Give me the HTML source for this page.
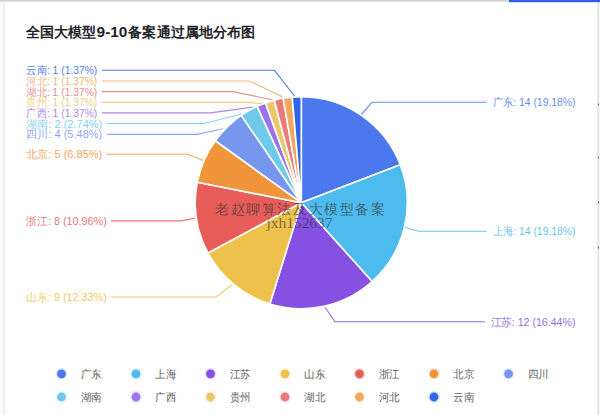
<!DOCTYPE html>
<html><head><meta charset="utf-8"><title>chart</title>
<style>
html,body{margin:0;padding:0;background:#fff;}
body{width:600px;height:415px;overflow:hidden;position:relative;font-family:"Liberation Sans",sans-serif;}
svg{position:absolute;left:0;top:0;display:block;}
text{font-family:"Liberation Sans",sans-serif;}
.lbl text{font-size:11px;}
.leg text{font-size:11px;}
.wm text{font-family:"Liberation Serif",serif;}
</style></head><body>
<svg width="600" height="415" viewBox="0 0 600 415">
<rect x="0" y="0" width="600" height="415" fill="#ffffff"/>
<rect x="0" y="0" width="4" height="415" fill="#fbfbfb"/>
<rect x="3.4" y="2" width="1.2" height="413" fill="#e6e7e9"/>
<rect x="597.4" y="3" width="1.4" height="412" fill="#dcdddf"/>
<rect x="598.8" y="3" width="1.2" height="412" fill="#f6f6f7"/>
<g fill="#6a6b6e"><rect x="598" y="103.6" width="1" height="2"/><rect x="598" y="156.5" width="1" height="2"/><rect x="598" y="201.3" width="1" height="2"/><rect x="598" y="246.6" width="1" height="2"/></g>
<rect x="0" y="0" width="509" height="1.6" fill="#cfd0d2"/>
<rect x="509" y="0" width="91" height="2.2" fill="#2d5fe8"/>
<g font-size="14" font-weight="bold" fill="#1f2329">
<text x="26" y="37" textLength="70" lengthAdjust="spacingAndGlyphs">全国大模型</text>
<text x="96.6" y="37" textLength="30.8" lengthAdjust="spacingAndGlyphs">9-10</text>
<text x="128.4" y="37" textLength="126.6" lengthAdjust="spacingAndGlyphs">备案通过属地分布图</text>
</g>
<g stroke="#ffffff" stroke-width="1.6" stroke-linejoin="round">
<path d="M301.3 202.7L301.30 96.70A106 106 0 0 1 400.29 164.78Z" fill="#4c78ee"/>
<path d="M301.3 202.7L400.29 164.78A106 106 0 0 1 372.11 281.58Z" fill="#4dbbee"/>
<path d="M301.3 202.7L372.11 281.58A106 106 0 0 1 269.85 303.93Z" fill="#8650e2"/>
<path d="M301.3 202.7L269.85 303.93A106 106 0 0 1 208.02 253.04Z" fill="#edc14b"/>
<path d="M301.3 202.7L208.02 253.04A106 106 0 0 1 197.28 182.30Z" fill="#e85d5a"/>
<path d="M301.3 202.7L197.28 182.30A106 106 0 0 1 215.28 140.76Z" fill="#f0953a"/>
<path d="M301.3 202.7L215.28 140.76A106 106 0 0 1 241.23 115.36Z" fill="#7796ee"/>
<path d="M301.3 202.7L241.23 115.36A106 106 0 0 1 257.08 106.37Z" fill="#6fc9ec"/>
<path d="M301.3 202.7L257.08 106.37A106 106 0 0 1 265.52 102.92Z" fill="#9b72ea"/>
<path d="M301.3 202.7L265.52 102.92A106 106 0 0 1 274.23 100.21Z" fill="#e9c86a"/>
<path d="M301.3 202.7L274.23 100.21A106 106 0 0 1 283.14 98.27Z" fill="#e87a7a"/>
<path d="M301.3 202.7L283.14 98.27A106 106 0 0 1 292.19 97.09Z" fill="#f0a95c"/>
<path d="M301.3 202.7L292.19 97.09A106 106 0 0 1 301.30 96.70Z" fill="#3164e6"/>
</g>
<g fill="none" stroke-width="1.1" stroke-opacity="0.85" class="ld">
<polyline points="361.3,114.7 372,102.3 486.5,102.3" stroke="#4c78ee"/>
<polyline points="405.0,227.3 418.3,231.2 486.5,231.2" stroke="#4dbbee"/>
<polyline points="325.0,307.3 335,321.8 485,321.8" stroke="#8650e2"/>
<polyline points="232.5,284.5 216,297 111,297" stroke="#edc14b"/>
<polyline points="195.3,218.1 181,220.9 111,220.9" stroke="#e85d5a"/>
<polyline points="203.3,160.5 188,154.2 107,154.2" stroke="#f0953a"/>
<polyline points="223.2,128.8 196.9,134.4 107,134.4" stroke="#7796ee"/>
<polyline points="241.3,114.0 204.4,123.5 107,123.5" stroke="#6fc9ec"/>
<polyline points="252.6,107.1 210.7,112.9 102,112.9" stroke="#9b72ea"/>
<polyline points="262.0,103.6 247,102.4 102,102.4" stroke="#e9c86a"/>
<polyline points="272.6,99.8 233,91.6 102,91.6" stroke="#e87a7a"/>
<polyline points="283.2,97.3 249.5,81 102,81" stroke="#f0a95c"/>
<polyline points="294.5,96.0 274.5,70.3 102,70.3" stroke="#3164e6"/>
</g>
<g class="lbl" fill-opacity="0.88">
<text x="575.5" y="106.3" text-anchor="end" fill="#4c78ee" textLength="83" lengthAdjust="spacingAndGlyphs">广东: 14 (19.18%)</text>
<text x="575.5" y="235.2" text-anchor="end" fill="#4dbbee" textLength="83" lengthAdjust="spacingAndGlyphs">上海: 14 (19.18%)</text>
<text x="575.5" y="325.8" text-anchor="end" fill="#8650e2" textLength="85" lengthAdjust="spacingAndGlyphs">江苏: 12 (16.44%)</text>
<text x="26.3" y="301" text-anchor="start" fill="#edc14b" textLength="80.5" lengthAdjust="spacingAndGlyphs">山东: 9 (12.33%)</text>
<text x="26.3" y="224.9" text-anchor="start" fill="#e85d5a" textLength="80.5" lengthAdjust="spacingAndGlyphs">浙江: 8 (10.96%)</text>
<text x="26.3" y="158.2" text-anchor="start" fill="#f0953a" textLength="76" lengthAdjust="spacingAndGlyphs">北京: 5 (6.85%)</text>
<text x="26.3" y="138.4" text-anchor="start" fill="#7796ee" textLength="76" lengthAdjust="spacingAndGlyphs">四川: 4 (5.48%)</text>
<text x="26.3" y="127.5" text-anchor="start" fill="#6fc9ec" textLength="76" lengthAdjust="spacingAndGlyphs">湖南: 2 (2.74%)</text>
<text x="26.3" y="116.9" text-anchor="start" fill="#9b72ea" textLength="71" lengthAdjust="spacingAndGlyphs">广西: 1 (1.37%)</text>
<text x="26.3" y="106.4" text-anchor="start" fill="#e9c86a" textLength="71" lengthAdjust="spacingAndGlyphs">贵州: 1 (1.37%)</text>
<text x="26.3" y="95.6" text-anchor="start" fill="#e87a7a" textLength="71" lengthAdjust="spacingAndGlyphs">湖北: 1 (1.37%)</text>
<text x="26.3" y="85" text-anchor="start" fill="#f0a95c" textLength="71" lengthAdjust="spacingAndGlyphs">河北: 1 (1.37%)</text>
<text x="26.3" y="74.3" text-anchor="start" fill="#3164e6" textLength="71" lengthAdjust="spacingAndGlyphs">云南: 1 (1.37%)</text>
</g>
<g class="leg">
<circle cx="61.5" cy="373.8" r="6" fill="#4c78ee" fill-opacity="0.18"/><circle cx="61.5" cy="373.8" r="4.4" fill="#4c78ee"/>
<text x="80.5" y="377.5" fill="#5a5c60" textLength="21" lengthAdjust="spacingAndGlyphs">广东</text>
<circle cx="136.0" cy="373.8" r="6" fill="#4dbbee" fill-opacity="0.18"/><circle cx="136.0" cy="373.8" r="4.4" fill="#4dbbee"/>
<text x="155.0" y="377.5" fill="#5a5c60" textLength="21" lengthAdjust="spacingAndGlyphs">上海</text>
<circle cx="210.5" cy="373.8" r="6" fill="#8650e2" fill-opacity="0.18"/><circle cx="210.5" cy="373.8" r="4.4" fill="#8650e2"/>
<text x="229.5" y="377.5" fill="#5a5c60" textLength="21" lengthAdjust="spacingAndGlyphs">江苏</text>
<circle cx="285.0" cy="373.8" r="6" fill="#edc14b" fill-opacity="0.18"/><circle cx="285.0" cy="373.8" r="4.4" fill="#edc14b"/>
<text x="304.0" y="377.5" fill="#5a5c60" textLength="21" lengthAdjust="spacingAndGlyphs">山东</text>
<circle cx="359.5" cy="373.8" r="6" fill="#e85d5a" fill-opacity="0.18"/><circle cx="359.5" cy="373.8" r="4.4" fill="#e85d5a"/>
<text x="378.5" y="377.5" fill="#5a5c60" textLength="21" lengthAdjust="spacingAndGlyphs">浙江</text>
<circle cx="434.0" cy="373.8" r="6" fill="#f0953a" fill-opacity="0.18"/><circle cx="434.0" cy="373.8" r="4.4" fill="#f0953a"/>
<text x="453.0" y="377.5" fill="#5a5c60" textLength="21" lengthAdjust="spacingAndGlyphs">北京</text>
<circle cx="508.5" cy="373.8" r="6" fill="#7796ee" fill-opacity="0.18"/><circle cx="508.5" cy="373.8" r="4.4" fill="#7796ee"/>
<text x="527.5" y="377.5" fill="#5a5c60" textLength="21" lengthAdjust="spacingAndGlyphs">四川</text>
<circle cx="61.5" cy="397.0" r="6" fill="#6fc9ec" fill-opacity="0.18"/><circle cx="61.5" cy="397.0" r="4.4" fill="#6fc9ec"/>
<text x="80.5" y="400.7" fill="#5a5c60" textLength="21" lengthAdjust="spacingAndGlyphs">湖南</text>
<circle cx="136.0" cy="397.0" r="6" fill="#9b72ea" fill-opacity="0.18"/><circle cx="136.0" cy="397.0" r="4.4" fill="#9b72ea"/>
<text x="155.0" y="400.7" fill="#5a5c60" textLength="21" lengthAdjust="spacingAndGlyphs">广西</text>
<circle cx="210.5" cy="397.0" r="6" fill="#e9c86a" fill-opacity="0.18"/><circle cx="210.5" cy="397.0" r="4.4" fill="#e9c86a"/>
<text x="229.5" y="400.7" fill="#5a5c60" textLength="21" lengthAdjust="spacingAndGlyphs">贵州</text>
<circle cx="285.0" cy="397.0" r="6" fill="#e87a7a" fill-opacity="0.18"/><circle cx="285.0" cy="397.0" r="4.4" fill="#e87a7a"/>
<text x="304.0" y="400.7" fill="#5a5c60" textLength="21" lengthAdjust="spacingAndGlyphs">湖北</text>
<circle cx="359.5" cy="397.0" r="6" fill="#f0a95c" fill-opacity="0.18"/><circle cx="359.5" cy="397.0" r="4.4" fill="#f0a95c"/>
<text x="378.5" y="400.7" fill="#5a5c60" textLength="21" lengthAdjust="spacingAndGlyphs">河北</text>
<circle cx="434.0" cy="397.0" r="6" fill="#3164e6" fill-opacity="0.18"/><circle cx="434.0" cy="397.0" r="4.4" fill="#3164e6"/>
<text x="453.0" y="400.7" fill="#5a5c60" textLength="21" lengthAdjust="spacingAndGlyphs">云南</text>
</g>
<g class="wm" fill="#333333" fill-opacity="0.66" text-anchor="middle">
<text x="300" y="214" font-size="14" textLength="169.5" lengthAdjust="spacing">老赵聊算法及大模型备案</text>
<text x="299.5" y="228.4" font-size="15.5" textLength="66" lengthAdjust="spacingAndGlyphs">jxh152637</text>
</g>
</svg>
</body></html>
